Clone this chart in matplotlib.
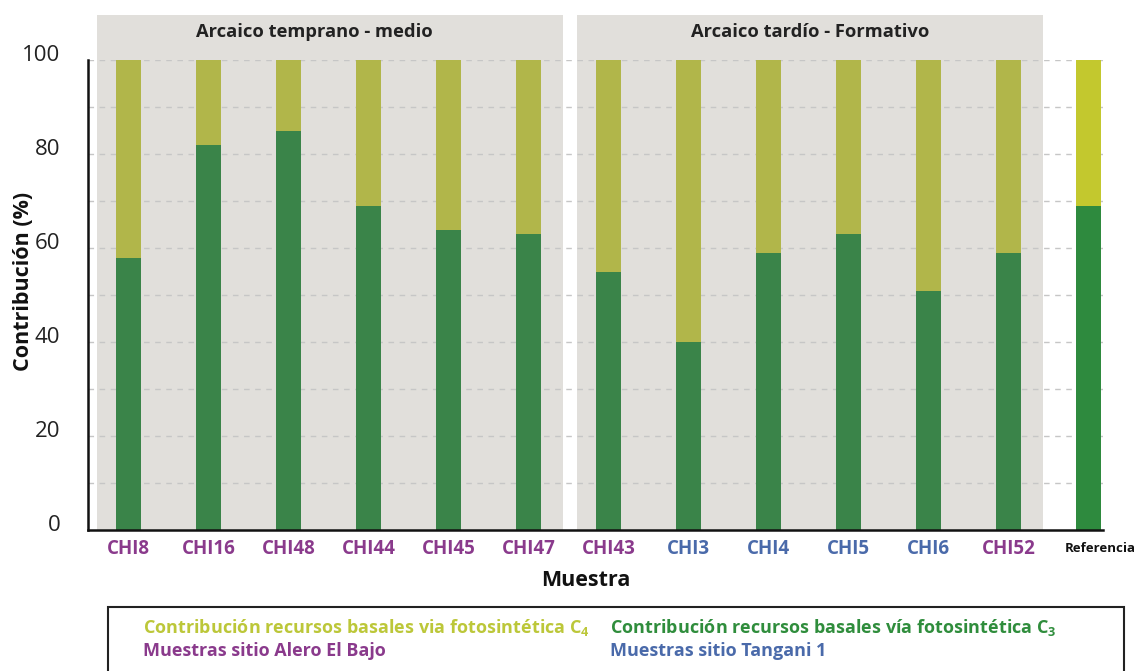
import matplotlib
matplotlib.use("Agg")
import matplotlib.pyplot as plt
import matplotlib.transforms as mtransforms
from matplotlib.patches import Rectangle

plt.rcParams['font.family'] = ['Open Sans', 'DejaVu Sans']
plt.rcParams['mathtext.fontset'] = 'custom'
plt.rcParams['mathtext.rm'] = 'Open Sans'
plt.rcParams['mathtext.bf'] = 'Open Sans:bold'

# ---- data ----
samples = ["CHI8", "CHI16", "CHI48", "CHI44", "CHI45", "CHI47", "CHI43",
           "CHI3", "CHI4", "CHI5", "CHI6", "CHI52", "Referencia"]
c3_values = [58, 82, 85, 69, 64, 63, 55, 40, 59, 63, 51, 59, 69]
c4_values = [100 - v for v in c3_values]
site = ["Alero", "Alero", "Alero", "Alero", "Alero", "Alero", "Alero",
        "Tangani", "Tangani", "Tangani", "Tangani", "Alero", "Ref"]
periods = ["Arcaico temprano - medio", "Arcaico tardío - Formativo"]
period_ranges = [(0, 5), (6, 11)]
y_ticks = [0, 20, 40, 60, 80, 100]

# ---- styles ----
C3_COL = "#3a8449"
C4_COL = "#b1b64a"
C3_REF = "#2e8a3e"
C4_REF = "#c3c82e"
PANEL = "#e1dfdb"
site_colors = {"Alero": "#8a3a8c", "Tangani": "#4a6aaa", "Ref": "#111111"}

W, H = 1141, 671
fig = plt.figure(figsize=(W / 100, H / 100), dpi=100)
ax_left, ax_right = 88, 1103
ax_top, ax_bot = 60.3, 530.3
ax = fig.add_axes([ax_left / W, 1 - ax_bot / H, (ax_right - ax_left) / W,
                   (ax_bot - ax_top) / H])

x = list(range(len(samples)))
ax.set_xlim(-0.506, 12.18)
ax.set_ylim(0, 100)

# gray period panels
header_shift = [-0.19, 0.0]
for (a, b), label, sh in zip(period_ranges, periods, header_shift):
    x0 = a - 0.394
    x1 = b + 0.43
    ax.add_patch(Rectangle((x0, 0), x1 - x0, 109.6, facecolor=PANEL,
                           edgecolor="none", clip_on=False, zorder=0))
    ax.text((x0 + x1) / 2 + sh, 106.0, label, ha="center", va="center",
            fontsize=13.2, fontweight="bold", color="#222222")

# gridlines
for g in range(10, 101, 10):
    ax.axhline(g, color="#c6c6c6", lw=1.0, ls=(0, (4, 4)), zorder=1)

bw = 0.32
c3_cols = [C3_COL] * (len(samples) - 1) + [C3_REF]
c4_cols = [C4_COL] * (len(samples) - 1) + [C4_REF]
ax.bar(x, c3_values, width=bw, color=c3_cols, zorder=2)
ax.bar(x, c4_values, width=bw, bottom=c3_values, color=c4_cols, zorder=2)

# spines
for s in ["top", "right"]:
    ax.spines[s].set_visible(False)
for s in ["left", "bottom"]:
    ax.spines[s].set_linewidth(1.8)
    ax.spines[s].set_color("#111111")
    ax.spines[s].set_zorder(3)

ax.set_yticks(y_ticks)
ax.set_yticklabels([str(t) for t in y_ticks], fontsize=16, color="#222222")
ax.tick_params(axis="y", length=0, pad=20)
off_up = mtransforms.ScaledTranslation(0, 7 / 100, fig.dpi_scale_trans)
for lbl in ax.get_yticklabels():
    lbl.set_transform(lbl.get_transform() + off_up)

ax.set_xticks(x)
ax.set_xticklabels(samples, fontsize=13.5, fontweight="bold")
ax.tick_params(axis="x", length=0, pad=6)
for lbl, s in zip(ax.get_xticklabels(), site):
    lbl.set_color(site_colors[s])
ref_lbl = ax.get_xticklabels()[-1]
ref_lbl.set_fontsize(9.5)
ref_lbl.set_ha("left")
ref_lbl.set_transform(ref_lbl.get_transform() +
                      mtransforms.ScaledTranslation(-24 / 100, -3 / 100, fig.dpi_scale_trans))

fig.text(586 / W, 1 - 580 / H, "Muestra", ha="center", va="center",
         fontsize=15.5, fontweight="bold", color="#111111")
fig.text(24 / W, 1 - 281 / H, "Contribución (%)", ha="center", va="center",
         rotation=90, fontsize=15.5, fontweight="bold", color="#111111")

# legend box
fig.patches.append(Rectangle((108 / W, -0.05), (1124 - 108) / W, (1 - 607 / H) + 0.05,
                             transform=fig.transFigure, facecolor="white",
                             edgecolor="#222222", lw=1.5))
fig.text(143 / W, 1 - 628 / H, r"Contribución recursos basales via fotosintética C$_\mathbf{4}$",
         ha="left", va="center", fontsize=13, fontweight="bold", color="#bcc739")
fig.text(610 / W, 1 - 628 / H, r"Contribución recursos basales vía fotosintética C$_\mathbf{3}$",
         ha="left", va="center", fontsize=13, fontweight="bold", color="#2f8d3c")
fig.text(143 / W, 1 - 651 / H, "Muestras sitio Alero El Bajo",
         ha="left", va="center", fontsize=13, fontweight="bold", color=site_colors["Alero"])
fig.text(610 / W, 1 - 651 / H, "Muestras sitio Tangani 1",
         ha="left", va="center", fontsize=13, fontweight="bold", color=site_colors["Tangani"])

fig.savefig("out.png", dpi=100)
